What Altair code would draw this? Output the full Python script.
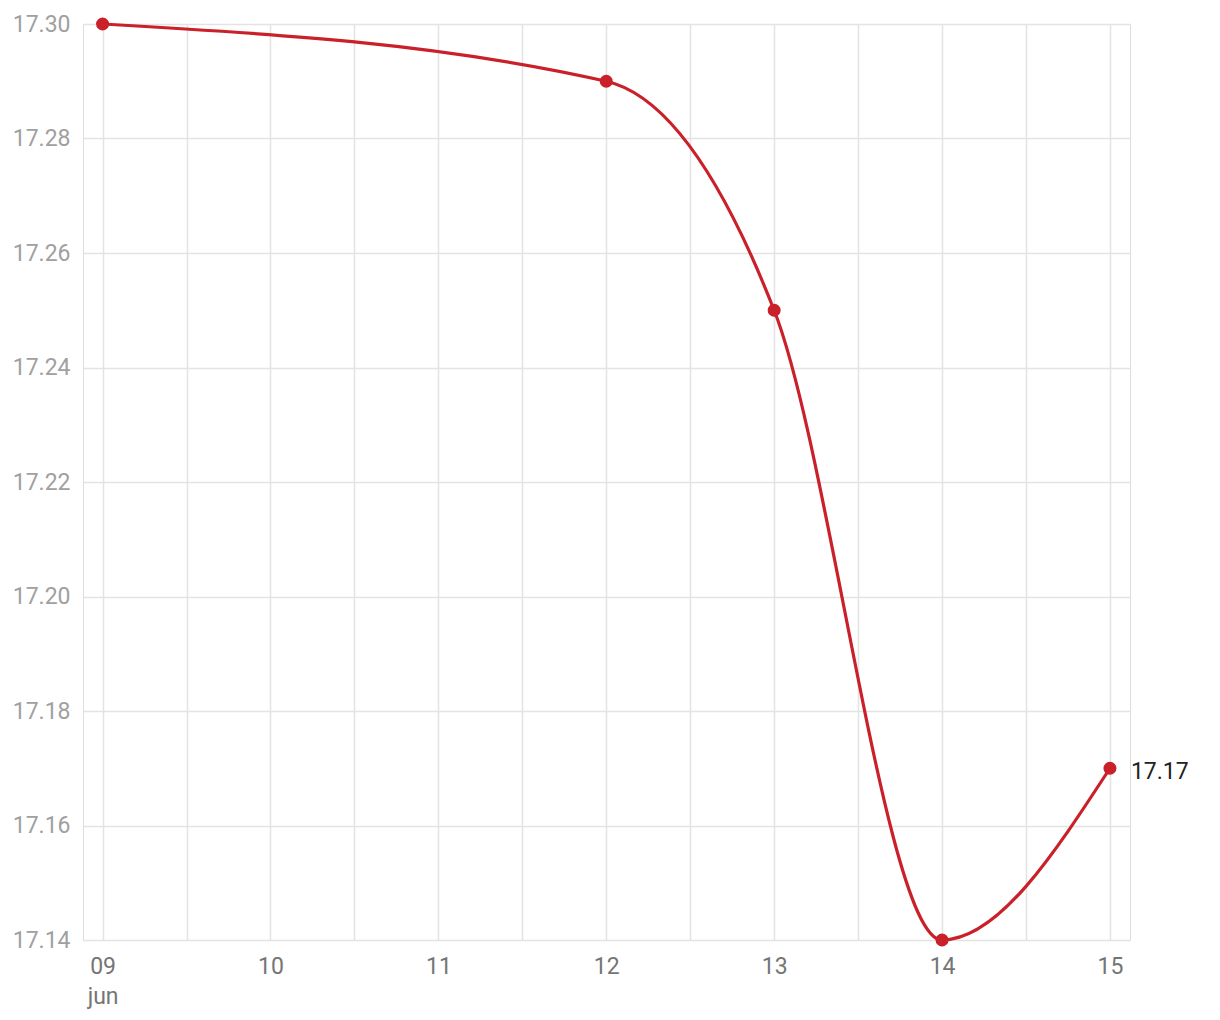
import altair as alt
import pandas as pd

dates = ["2024-06-09", "2024-06-12", "2024-06-13", "2024-06-14", "2024-06-15"]
values = [17.30, 17.29, 17.25, 17.14, 17.17]
y_ticks = [17.14, 17.16, 17.18, 17.20, 17.22, 17.24, 17.26, 17.28, 17.30]

df = pd.DataFrame({"date": dates, "value": values})
last = df.tail(1)

RED = "#c9202a"

x_vals = []
for d in range(9, 16):
    x_vals.append(alt.DateTime(year=2024, month=6, date=d, hours=0, utc=True))
    if d < 15:
        x_vals.append(alt.DateTime(year=2024, month=6, date=d, hours=12, utc=True))

x_scale = alt.Scale(
    type="utc",
    domain=[
        alt.DateTime(year=2024, month=6, date=8, hours=21, minutes=12, utc=True),
        alt.DateTime(year=2024, month=6, date=15, hours=2, minutes=52, utc=True),
    ],
)

x_enc = alt.X(
    "date:T",
    scale=x_scale,
    axis=alt.Axis(
        values=x_vals,
        labelExpr="utchours(datum.value) == 0 ? (utcdate(datum.value) == 9 ? ['09', 'jun'] : utcFormat(datum.value, '%d')) : ''",
        grid=True,
        gridColor="#e3e3e3",
        gridWidth=1.5,
        ticks=False,
        domain=False,
        labelFont="Roboto",
        labelFontSize=23,
        labelColor="#757575",
        labelPadding=15,
        labelAlign="center",
        labelLineHeight=30,
        labelFlush=False,
        labelOverlap=False,
        title=None,
    ),
)

y_enc = alt.Y(
    "value:Q",
    scale=alt.Scale(domain=[17.14, 17.30], zero=False, nice=False),
    axis=alt.Axis(
        values=y_ticks,
        format=".2f",
        grid=True,
        gridColor="#e3e3e3",
        gridWidth=1.5,
        ticks=False,
        domain=False,
        labelFont="Roboto",
        labelFontSize=23,
        labelColor="#a0a0a0",
        labelPadding=13,
        title=None,
    ),
)

base = alt.Chart(df)

line = base.mark_line(color=RED, strokeWidth=3.2, interpolate="monotone").encode(x=x_enc, y=y_enc)
points = base.mark_point(color=RED, filled=True, opacity=1, size=170).encode(x="date:T", y="value:Q")
label = alt.Chart(last).mark_text(
    align="left", baseline="middle", dx=21, dy=4, font="Roboto", fontSize=23, color="#212121"
).encode(x="date:T", y="value:Q", text=alt.Text("value:Q", format=".2f"))

chart = (
    alt.layer(line, points, label)
    .properties(
        width=1047,
        height=916,
        autosize=alt.AutoSizeParams(type="none"),
        padding={"left": 75, "top": 16, "right": 80, "bottom": 70},
    )
    .configure_view(stroke=None)
    .configure(background="white")
)

chart.save("out.html", embed_options={"renderer": "svg", "actions": False})
